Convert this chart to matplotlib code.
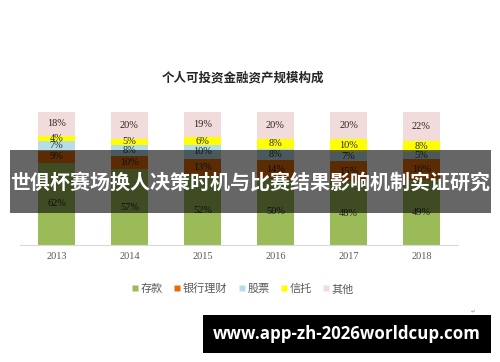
import numpy as np
import matplotlib
matplotlib.use('Agg')
import matplotlib.pyplot as plt
from matplotlib.patches import Rectangle
from matplotlib.lines import Line2D

plt.rcParams['font.family'] = ['Noto Sans CJK SC', 'DejaVu Sans']

# data
years = ['2013', '2014', '2015', '2016', '2017', '2018']
series_names = ['存款', '银行理财', '股票', '信托', '其他']
deposit = [62, 57, 52, 50, 48, 49]
wealth_mgmt = [9, 10, 13, 14, 15, 16]
stocks = [7, 8, 10, 8, 7, 5]
trust = [4, 5, 6, 8, 10, 8]
other = [18, 20, 19, 20, 20, 22]

title = '个人可投资金融资产规模构成'
banner = '世俱杯赛场换人决策时机与比赛结果影响机制实证研究'
watermark = 'www.app-zh-2026worldcup.com'

COLORS = ['#9BBB59', '#E46C0A', '#B7DEE8', '#FFFF00', '#F2DCDB']
TEXT_GRAY = '#595959'
SERIF = ['Liberation Serif', 'DejaVu Serif']

W, H = 500, 362
fig = plt.figure(figsize=(W / 100, H / 100), dpi=100)
fig.patch.set_facecolor('white')

# axes placed in pixel terms: x 20..458, y(top) 112..245
ax = fig.add_axes([20 / W, (H - 245) / H, 438 / W, 133 / H])
x = np.arange(len(years))
bottom = np.zeros(len(years))
for name, vals, col in zip(series_names, [deposit, wealth_mgmt, stocks, trust, other], COLORS):
    vals = np.array(vals, dtype=float)
    ax.bar(x, vals, 0.51, bottom=bottom, color=col, edgecolor='none', zorder=2)
    for xi, b, v in zip(x, bottom, vals):
        ax.text(xi, b + v / 2, f'{int(v)}%', ha='center', va='center',
                fontsize=7.5, color='#262626', family=SERIF)
    bottom += vals

ax.set_xlim(-0.5, len(years) - 0.5)
ax.set_ylim(0, 100)
ax.set_xticks(x)
ax.set_xticklabels(years, fontsize=7.5, color=TEXT_GRAY, family=SERIF)
ax.tick_params(axis='x', length=0, pad=5)
ax.set_yticks([])
for s in ['top', 'right', 'left']:
    ax.spines[s].set_visible(False)
ax.spines['bottom'].set_color('#D9D9D9')
ax.spines['bottom'].set_linewidth(0.8)

# title
fig.text(243 / W, 1 - 78 / H, title, ha='center', va='center',
         fontsize=9, fontweight='bold', color='#262626')

# legend
handles = [Line2D([0], [0], marker='s', linestyle='none', markersize=4,
                  markerfacecolor=c, markeredgecolor='none') for c in COLORS]
fig.legend(handles, series_names, loc='center', bbox_to_anchor=(243 / W, 1 - 289 / H),
           ncol=5, frameon=False, fontsize=8, labelcolor=TEXT_GRAY,
           handlelength=0.6, handletextpad=0.2, columnspacing=1.0)

# dark banner overlay
fig.patches.append(Rectangle((10 / W, 1 - 213 / H), 481 / W, 63 / H,
                             transform=fig.transFigure, facecolor='black',
                             alpha=0.6, edgecolor='none', zorder=5))
fig.text(250 / W, 1 - 182 / H, banner, ha='center', va='center',
         fontsize=14.4, fontweight='bold', color='white', zorder=6)

# watermark box
fig.patches.append(Rectangle((203 / W, 1 - 353 / H), 288 / W, 38 / H,
                             transform=fig.transFigure, facecolor='black',
                             edgecolor='none', zorder=5))
fig.text(347 / W, 1 - 334 / H, watermark, ha='center', va='center',
         fontsize=12.2, fontweight='bold', color='white', zorder=6,
         family=['Open Sans', 'DejaVu Sans'])
fig.text(473 / W, 1 - 312 / H, '↵', ha='center', va='center',
         fontsize=4, color='#999999', family=['DejaVu Sans'])

fig.savefig('out.png', dpi=100, facecolor='white')
plt.close()
